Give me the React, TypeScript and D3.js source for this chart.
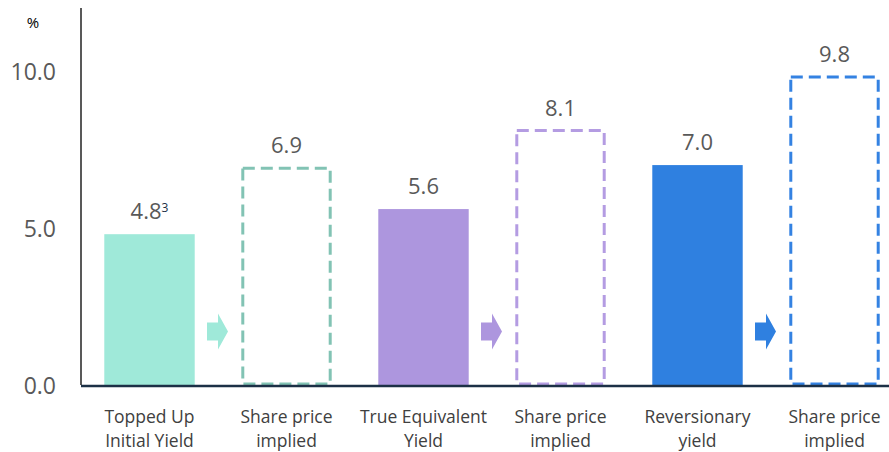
import React, { useEffect, useRef } from 'react';
import * as d3 from 'd3';

// chart data
const categories = ['tuiy', 'tuiyImplied', 'tey', 'teyImplied', 'rev', 'revImplied'];
const labelLines = [
  ['Topped Up', 'Initial Yield'],
  ['Share price', 'implied'],
  ['True Equivalent', 'Yield'],
  ['Share price', 'implied'],
  ['Reversionary', 'yield'],
  ['Share price', 'implied'],
];
const values = [4.8, 6.9, 5.6, 8.1, 7.0, 9.8];
const implied = [false, true, false, true, false, true];
const footnotes = ['3', '', '', '', '', ''];
const yTicks = [0, 5, 10];

const fills = ['#9fe9d9', '#9fe9d9', '#ad96de', '#ad96de', '#2f80e0', '#2f80e0'];
const strokes = ['#82c3b4', '#82c3b4', '#b49ce2', '#b49ce2', '#3482e2', '#3482e2'];

export default function App() {
  const svgRef = useRef<SVGSVGElement>(null);

  useEffect(() => {
    if (!svgRef.current) return;
    const svg = d3.select(svgRef.current);
    svg.selectAll('*').remove();

    const width = 889,
      height = 452;

    const x = d3
      .scaleBand<string>()
      .domain(categories)
      .range([81, 903])
      .paddingInner(0.34)
      .paddingOuter(0.17);

    const y = d3.scaleLinear().domain([0, 12]).range([385, 8]);

    svg.attr('width', width).attr('height', height);

    const font = "'Open Sans', 'Liberation Sans', sans-serif";

    // y axis line
    svg.append('line')
      .attr('x1', 81).attr('x2', 81)
      .attr('y1', y(12)).attr('y2', y(0))
      .attr('stroke', '#595959')
      .attr('stroke-width', 2);

    // y tick labels
    svg.selectAll('.ytick')
      .data(yTicks)
      .enter()
      .append('text')
      .attr('class', 'ytick')
      .attr('x', 56)
      .attr('y', d => y(d) + 9)
      .attr('text-anchor', 'end')
      .attr('font-family', font)
      .attr('font-size', 23)
      .attr('fill', '#595959')
      .text(d => d.toFixed(1));

    svg.append('text')
      .attr('x', 33).attr('y', 28)
      .attr('text-anchor', 'middle')
      .attr('font-family', font)
      .attr('font-size', 15)
      .attr('fill', '#000')
      .text('%');

    const data = categories.map((c, i) => ({ c, i, v: values[i], dashed: implied[i] }));

    // solid bars
    svg.selectAll('.bar')
      .data(data.filter(d => !d.dashed))
      .enter()
      .append('rect')
      .attr('x', d => x(d.c) || 0)
      .attr('y', d => y(d.v))
      .attr('width', x.bandwidth())
      .attr('height', d => y(0) - y(d.v))
      .attr('fill', d => fills[d.i]);

    // dashed "implied" bars
    svg.selectAll('.dbar')
      .data(data.filter(d => d.dashed))
      .enter()
      .append('rect')
      .attr('x', d => (x(d.c) || 0) + 1.5)
      .attr('y', d => y(d.v))
      .attr('width', x.bandwidth() - 3)
      .attr('height', d => y(0) - y(d.v) - 1)
      .attr('fill', 'none')
      .attr('stroke', d => strokes[d.i])
      .attr('stroke-width', 3)
      .attr('stroke-dasharray', '12,6');

    // arrows between bar pairs
    const arrow = (cx: number, cy: number) =>
      `M${cx - 10},${cy - 9} L${cx + 1},${cy - 9} L${cx + 1},${cy - 18} L${cx + 11},${cy} L${cx + 1},${cy + 18} L${cx + 1},${cy + 9} L${cx - 10},${cy + 9} Z`;
    svg.selectAll('.arrow')
      .data(data.filter(d => !d.dashed))
      .enter()
      .append('path')
      .attr('d', d => {
        const a = (x(d.c) || 0) + x.bandwidth();
        const b = x(categories[d.i + 1]) || 0;
        return arrow((a + b) / 2 - 1, y(1.7));
      })
      .attr('fill', d => fills[d.i]);

    // baseline
    svg.append('line')
      .attr('x1', 81).attr('x2', width)
      .attr('y1', y(0) + 1).attr('y2', y(0) + 1)
      .attr('stroke', '#1c3046')
      .attr('stroke-width', 2.5);

    // value labels
    const vl = svg.selectAll('.vlabel')
      .data(data)
      .enter()
      .append('text')
      .attr('x', d => (x(d.c) || 0) + x.bandwidth() / 2)
      .attr('y', d => y(d.v) - 15)
      .attr('text-anchor', 'middle')
      .attr('font-family', font)
      .attr('font-size', 22)
      .attr('fill', '#595959');
    vl.append('tspan').text(d => d.v.toFixed(1));
    vl.append('tspan')
      .attr('font-size', 12)
      .attr('dy', -7)
      .attr('fill', '#1c3046')
      .text(d => footnotes[d.i]);

    // category labels
    const cl = svg.selectAll('.clabel')
      .data(data)
      .enter()
      .append('text')
      .attr('text-anchor', 'middle')
      .attr('font-family', font)
      .attr('font-size', 17.5)
      .attr('fill', '#404040');
    cl.selectAll('tspan')
      .data(d => labelLines[d.i].map(t => ({ t, cx: (x(d.c) || 0) + x.bandwidth() / 2 })))
      .enter()
      .append('tspan')
      .attr('x', d => d.cx)
      .attr('y', (_d, j) => 423 + j * 24)
      .text(d => d.t);
  }, []);

  return (
    <div>
      <svg ref={svgRef} style={{ display: 'block', position: 'absolute', left: 0, top: 0 }}></svg>
    </div>
  );
}
